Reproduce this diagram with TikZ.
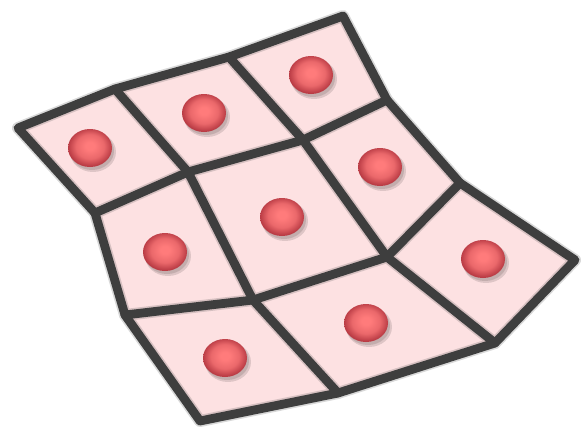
\documentclass[tikz,border=0pt]{standalone}
\usetikzlibrary{calc}
\definecolor{edgegray}{HTML}{3E3E3E}
\definecolor{cellfill}{HTML}{FDE1E2}
\definecolor{dotin}{HTML}{FF7B7B}
\definecolor{dotout}{HTML}{BA3C45}
\pgfdeclareradialshading{ballred}{\pgfpoint{0bp}{3bp}}{color(0bp)=(dotin); color(5bp)=(dotin); color(16bp)=(dotin!70!dotout); color(25bp)=(dotout); color(50bp)=(dotout)}
\begin{document}
\begin{tikzpicture}[x=0.75pt,y=-0.75pt,
  meshline/.style={draw=edgegray,line width=6.6pt,line join=round,line cap=round},
  shadowline/.style={draw=black!70,line width=9pt,line join=round,line cap=round},
  cell/.style={fill=cellfill,draw=none},
  dotshadow/.style={fill=black,opacity=0.12},
  dotball/.style={shading=ballred}]
\useasboundingbox (0,0) rectangle (582,430);
% vertices
\coordinate (A) at (18,128);
\coordinate (B) at (115,89);
\coordinate (C) at (229,57);
\coordinate (D) at (343,16);
\coordinate (E) at (387,100);
\coordinate (F) at (460,183);
\coordinate (G) at (575,260);
\coordinate (H) at (495,343);
\coordinate (I) at (338,393);
\coordinate (J) at (200,421);
\coordinate (K) at (125,315);
\coordinate (L) at (95,213);
\coordinate (M) at (188,172);
\coordinate (N) at (303,140);
\coordinate (O) at (253,300);
\coordinate (P) at (387,257);
% cells
\fill[cell] (A)--(B)--(C)--(D)--(E)--(F)--(G)--(H)--(I)--(J)--(K)--(L)--cycle;
% line shadow
\begin{scope}[transparency group,opacity=0.22,shift={(2,3)}]
\draw[shadowline] (A)--(B)--(C)--(D)--(E)--(F)--(G)--(H)--(I)--(J)--(K)--(L)--cycle;
\draw[shadowline] (B)--(M)--(O)--(I);
\draw[shadowline] (C)--(N)--(P)--(H);
\draw[shadowline] (L)--(M)--(N)--(E);
\draw[shadowline] (K)--(O)--(P)--(F);
\end{scope}
% lines
\draw[meshline] (A)--(B)--(C)--(D)--(E)--(F)--(G)--(H)--(I)--(J)--(K)--(L)--cycle;
\draw[meshline] (B)--(M)--(O)--(I);
\draw[meshline] (C)--(N)--(P)--(H);
\draw[meshline] (L)--(M)--(N)--(E);
\draw[meshline] (K)--(O)--(P)--(F);
% dots
\foreach \x/\y in {90/148,204/113,311/75,165/252,282/217,380/167,225/358,366/323,483/259}{
  \fill[dotshadow] (\x+3,\y+4) ellipse [x radius=23,y radius=20];
  \fill[dotshadow] (\x+2,\y+3) ellipse [x radius=22,y radius=19];
  \shade[dotball] (\x,\y) ellipse [x radius=22,y radius=19];
}
\end{tikzpicture}
\end{document}
